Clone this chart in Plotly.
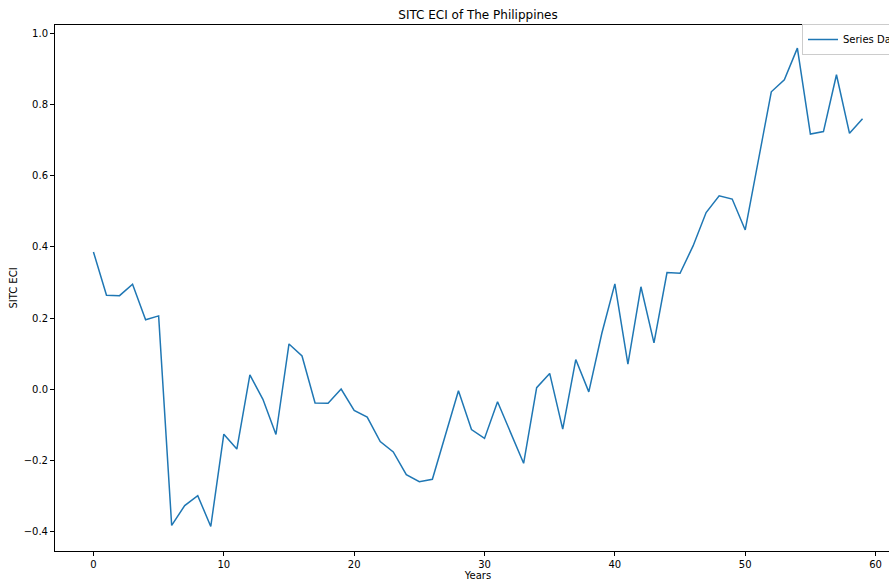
import plotly.graph_objects as go

years = list(range(60))
eci = [0.386, 0.264, 0.263, 0.295, 0.195, 0.206, -0.384, -0.328, -0.300, -0.387,
       -0.127, -0.169, 0.040, -0.029, -0.128, 0.127, 0.093, -0.039, -0.040, 0.000,
       -0.060, -0.079, -0.148, -0.177, -0.241, -0.261, -0.254, -0.130, -0.005, -0.114,
       -0.139, -0.036, -0.122, -0.209, 0.004, 0.044, -0.113, 0.083, -0.008, 0.157,
       0.296, 0.070, 0.288, 0.130, 0.328, 0.326, 0.403, 0.497, 0.544, 0.535,
       0.448, 0.640, 0.837, 0.871, 0.960, 0.718, 0.725, 0.885, 0.720, 0.761]
x_ticks = [0, 10, 20, 30, 40, 50, 60]
y_ticks = [-0.4, -0.2, 0.0, 0.2, 0.4, 0.6, 0.8, 1.0]

FONT = "DejaVu Sans"
W = 940

fig = go.Figure()
fig.add_trace(go.Scatter(x=years, y=eci, mode="lines", name="Series Data",
                         line=dict(color="#1f77b4", width=1.5)))

axis_common = dict(showline=True, linecolor="black", linewidth=1, mirror=True,
                   ticks="outside", ticklen=4, tickcolor="black", tickwidth=1,
                   showgrid=False, zeroline=False, automargin=False,
                   tickfont=dict(family=FONT, size=10, color="black"))

fig.update_layout(
    width=W, height=581,
    margin=dict(l=55, r=39, t=25, b=30, autoexpand=False),
    paper_bgcolor="white", plot_bgcolor="white",
    font=dict(family=FONT, color="black"),
    title=dict(text="SITC ECI of The Philippines", x=0.5, xref="paper", xanchor="center",
               y=1 - 15 / 581, yref="container", yanchor="middle",
               font=dict(family=FONT, size=12, color="black")),
    xaxis=dict(range=[-2.95, 61.95], tickvals=x_ticks,
               title=dict(text="Years", font=dict(family=FONT, size=10), standoff=3),
               **axis_common),
    yaxis=dict(range=[-0.456, 1.025], tickvals=y_ticks, tickformat=".1f",
               title=dict(text="SITC ECI", font=dict(family=FONT, size=10), standoff=4),
               **axis_common),
    showlegend=True,
    legend=dict(xref="paper", yref="paper", x=(802 - 55) / (W - 55 - 39), y=1 + 1 / 526,
                xanchor="left", yanchor="top",
                bgcolor="rgba(255,255,255,0.8)", bordercolor="#cccccc", borderwidth=1,
                font=dict(family=FONT, size=10, color="black"), itemwidth=30,
                tracegroupgap=0),
)

fig.write_html("out.html",
               post_script="document.body.style.overflow='hidden';document.documentElement.style.overflow='hidden';document.body.style.margin='0';")
